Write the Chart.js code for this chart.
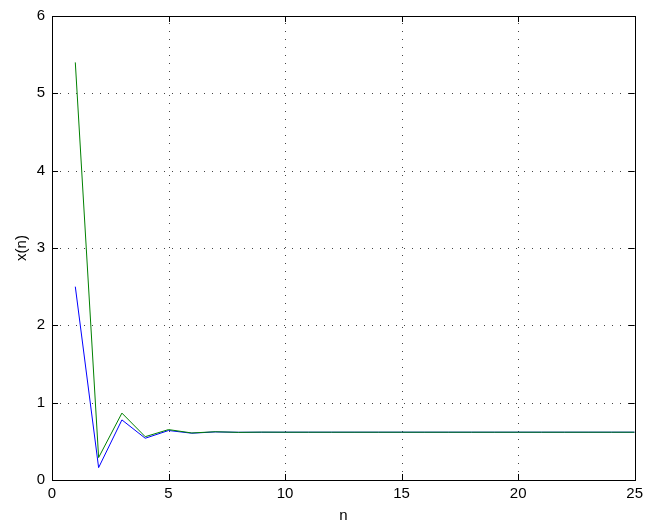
<!DOCTYPE html>
<html>
<head>
<meta charset="utf-8">
<script src="https://cdn.jsdelivr.net/npm/chart.js@4/dist/chart.umd.min.js"></script>
<style>
  html, body { margin: 0; padding: 0; background: #fff; }
  #wrap { width: 648px; height: 524px; }
</style>
</head>
<body>
<div id="wrap"><canvas id="chart" width="648" height="524"></canvas></div>
<script>
// iteration index and the two sequences
const nValues = [1, 2, 3, 4, 5, 6, 7, 8, 9, 10, 11, 12, 13, 14, 15, 16, 17, 18, 19, 20, 21, 22, 23, 24, 25];
const blueSeries = [2.5, 0.16, 0.777, 0.54, 0.64, 0.605, 0.622, 0.617, 0.618, 0.618, 0.618, 0.618, 0.618,
  0.618, 0.618, 0.618, 0.618, 0.618, 0.618, 0.618, 0.618, 0.618, 0.618, 0.618, 0.618];
const greenSeries = [5.4, 0.29, 0.865, 0.56, 0.652, 0.608, 0.624, 0.616, 0.619, 0.618, 0.618, 0.618, 0.618,
  0.618, 0.618, 0.618, 0.618, 0.618, 0.618, 0.618, 0.618, 0.618, 0.618, 0.618, 0.618];
const xTicks = [0, 5, 10, 15, 20, 25];
const yTicks = [0, 1, 2, 3, 4, 5, 6];

const toPoints = (ys) => nValues.map((n, i) => ({ x: n, y: ys[i] }));

// dotted grid under the lines
const gridPlugin = {
  id: 'dotgrid',
  beforeDatasetsDraw(chart) {
    const ctx = chart.ctx;
    const a = chart.chartArea;
    const xs = chart.scales.x, ys = chart.scales.y;
    ctx.save();
    ctx.strokeStyle = '#444';
    ctx.lineWidth = 1;
    ctx.setLineDash([1, 7]);
    ctx.beginPath();
    xTicks.slice(1, -1).forEach(v => {
      const px = Math.round(xs.getPixelForValue(v)) + 0.5;
      ctx.moveTo(px, a.bottom); ctx.lineTo(px, a.top);
    });
    yTicks.slice(1, -1).forEach(v => {
      const py = Math.round(ys.getPixelForValue(v)) + 0.5;
      ctx.moveTo(a.left, py); ctx.lineTo(a.right, py);
    });
    ctx.stroke();
    ctx.restore();
  }
};

// box around the axes plus inward tick marks, matlab style
const boxPlugin = {
  id: 'box',
  afterDraw(chart) {
    const ctx = chart.ctx;
    const a = chart.chartArea;
    const xs = chart.scales.x, ys = chart.scales.y;
    const len = 6;
    ctx.save();
    ctx.strokeStyle = '#000';
    ctx.lineWidth = 1;
    ctx.strokeRect(Math.round(a.left) + 0.5, Math.round(a.top) + 0.5,
      Math.round(a.right - a.left), Math.round(a.bottom - a.top));
    ctx.beginPath();
    xTicks.forEach(v => {
      const px = Math.round(xs.getPixelForValue(v)) + 0.5;
      ctx.moveTo(px, a.bottom); ctx.lineTo(px, a.bottom - len);
      ctx.moveTo(px, a.top); ctx.lineTo(px, a.top + len);
    });
    yTicks.forEach(v => {
      const py = Math.round(ys.getPixelForValue(v)) + 0.5;
      ctx.moveTo(a.left, py); ctx.lineTo(a.left + len, py);
      ctx.moveTo(a.right, py); ctx.lineTo(a.right - len, py);
    });
    ctx.stroke();
    ctx.restore();
  }
};

const font = { family: 'Liberation Sans, Arial, sans-serif', size: 15 };

new Chart(document.getElementById('chart'), {
  type: 'line',
  data: {
    datasets: [
      { label: 'x2', data: toPoints(greenSeries), borderColor: '#008000', borderWidth: 1, pointRadius: 0, tension: 0, order: 0 },
      { label: 'x1', data: toPoints(blueSeries), borderColor: '#0000ff', borderWidth: 1, pointRadius: 0, tension: 0, order: 1 }
    ]
  },
  options: {
    responsive: false,
    animation: false,
    events: [],
    layout: { padding: { left: 0, right: 11, top: 16, bottom: 0 } },
    plugins: { legend: { display: false }, tooltip: { enabled: false } },
    scales: {
      x: {
        type: 'linear', min: 0, max: 25,
        afterBuildTicks: (s) => { s.ticks = xTicks.map(v => ({ value: v })); },
        afterFit: (s) => { s.height = 44; },
        ticks: { font: font, color: '#000', padding: 5, maxRotation: 0 },
        grid: { display: false, drawTicks: false },
        border: { display: false },
        title: { display: true, text: 'n', font: font, color: '#000', padding: { top: 0, bottom: -1 } }
      },
      y: {
        type: 'linear', min: 0, max: 6,
        afterBuildTicks: (s) => { s.ticks = yTicks.map(v => ({ value: v })); },
        afterFit: (s) => { s.width = 52; },
        ticks: { font: font, color: '#000', padding: 7 },
        grid: { display: false, drawTicks: false },
        border: { display: false },
        title: { display: true, text: 'x(n)', font: font, color: '#000', padding: { top: 13, bottom: 0 } }
      }
    }
  },
  plugins: [gridPlugin, boxPlugin]
});
</script>
</body>
</html>
